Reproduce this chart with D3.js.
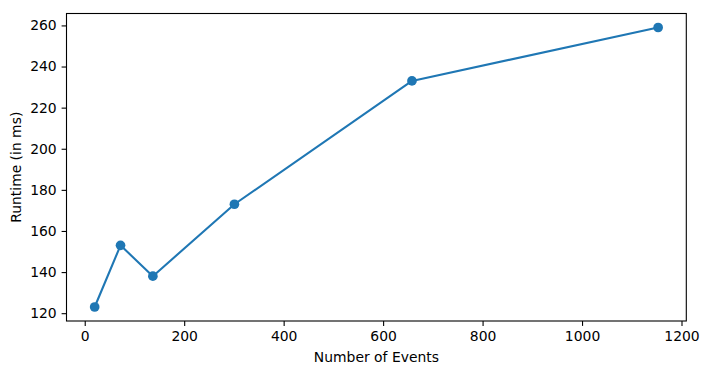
<!DOCTYPE html>
<html><head><meta charset="utf-8">
<script src="https://cdn.jsdelivr.net/npm/d3@7"></script>
<style>body{margin:0;background:#fff}svg{display:block}text{font-family:"DejaVu Sans",sans-serif}</style>
</head><body>
<svg id="c" width="709" height="374"></svg>
<script>
const events = [20, 72, 137, 301, 658, 1153];
const runtimes = [123, 153, 138, 173, 233, 259];
const xTicks = [0, 200, 400, 600, 800, 1000, 1200];
const yTicks = [120, 140, 160, 180, 200, 220, 240, 260];
const xLabel = "Number of Events";
const yLabel = "Runtime (in ms)";

const svg = d3.select("#c");
const L = 66.5, R = 686.3, T = 13.5, B = 321;
const xr = d3.extent(events), yr = d3.extent(runtimes);
const xm = (xr[1]-xr[0])*0.05, ym = (yr[1]-yr[0])*0.05;
const x = d3.scaleLinear().domain([xr[0]-xm, xr[1]+xm]).range([L, R]);
const y = d3.scaleLinear().domain([yr[0]-ym, yr[1]+ym]).range([B, T]);
const color = "#1f77b4";
const fs = "13.9px";

const xAxis = svg.append("g").attr("transform", `translate(0,${B})`)
  .call(d3.axisBottom(x).tickValues(xTicks).tickSize(4.9).tickPadding(4.9).tickFormat(d3.format("d")));
const yAxis = svg.append("g").attr("transform", `translate(${L},0)`)
  .call(d3.axisLeft(y).tickValues(yTicks).tickSize(4.9).tickPadding(4.9).tickFormat(d3.format("d")));
[xAxis, yAxis].forEach(g => {
  g.select(".domain").remove();
  g.selectAll(".tick line").attr("stroke", "#000").attr("stroke-width", 1.1);
  g.selectAll(".tick text").attr("fill", "#000").style("font-size", fs).style("font-family", "DejaVu Sans");
});

const line = d3.line().x((d,i) => x(events[i])).y(d => y(d));
svg.append("path").datum(runtimes).attr("d", line)
  .attr("fill", "none").attr("stroke", color).attr("stroke-width", 2.08).attr("stroke-linejoin", "round").attr("stroke-linecap", "square");
svg.selectAll("circle.pt").data(runtimes).join("circle").attr("class", "pt")
  .attr("cx", (d,i) => x(events[i])).attr("cy", d => y(d)).attr("r", 4.85).attr("fill", color);

svg.append("rect").attr("x", L).attr("y", T).attr("width", R-L).attr("height", B-T)
  .attr("fill", "none").attr("stroke", "#000").attr("stroke-width", 1.1);

svg.append("text").attr("x", (L+R)/2).attr("y", 362).attr("text-anchor", "middle")
  .style("font-size", fs).attr("fill", "#000").text(xLabel);
svg.append("text").attr("transform", `translate(21,${(T+B)/2}) rotate(-90)`).attr("text-anchor", "middle")
  .style("font-size", fs).attr("fill", "#000").text(yLabel);
</script>
</body></html>
